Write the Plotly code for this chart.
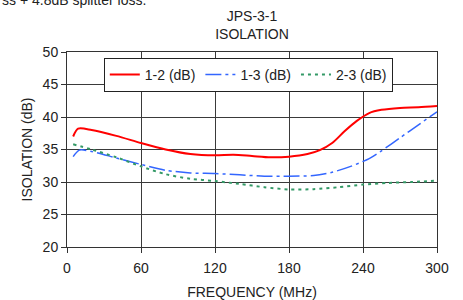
import plotly.graph_objects as go

freq_12 = [5, 9, 20, 40, 60, 80, 100, 120, 135, 150, 165, 180, 195, 205, 215, 225, 235, 245, 255, 270, 285, 300]
iso_12 = [37.0, 38.2, 38.0, 37.1, 36.0, 35.0, 34.3, 34.1, 34.2, 34.0, 33.8, 33.9, 34.3, 34.9, 36.0, 37.8, 39.4, 40.6, 41.1, 41.4, 41.5, 41.7]

freq_13 = [5, 10, 20, 40, 60, 80, 100, 120, 140, 160, 180, 200, 215, 230, 245, 255, 270, 285, 300]
iso_13 = [33.9, 34.9, 34.7, 33.7, 32.7, 31.8, 31.4, 31.3, 31.1, 30.9, 30.9, 31.0, 31.5, 32.4, 33.6, 34.8, 36.8, 38.8, 40.8]

freq_23 = [5, 20, 40, 60, 80, 100, 120, 140, 160, 180, 200, 220, 240, 260, 280, 300]
iso_23 = [35.8, 35.0, 33.8, 32.4, 31.2, 30.5, 30.15, 29.7, 29.2, 28.85, 28.9, 29.2, 29.6, 29.85, 30.0, 30.2]

x_ticks = [0, 60, 120, 180, 240, 300]
y_ticks = [20, 25, 30, 35, 40, 45, 50]

font_family = "Liberation Sans, Arial, sans-serif"

fig = go.Figure()
fig.add_trace(go.Scatter(x=freq_12, y=iso_12, mode="lines", name="1-2 (dB)",
                         line=dict(color="#ff0000", width=2, shape="spline", smoothing=0.8)))
fig.add_trace(go.Scatter(x=freq_13, y=iso_13, mode="lines", name="1-3 (dB)",
                         line=dict(color="#3366ff", width=1.5, dash="16px,4px,3px,4px", shape="spline", smoothing=0.8)))
fig.add_trace(go.Scatter(x=freq_23, y=iso_23, mode="lines", name="2-3 (dB)",
                         line=dict(color="#339966", width=2, dash="3px,4px", shape="spline", smoothing=0.8)))

axis_common = dict(showline=True, linecolor="#333333", linewidth=1, mirror=True,
                   showgrid=True, gridcolor="#3a3a3a", gridwidth=1,
                   ticks="outside", ticklen=5, tickcolor="#333333",
                   tickfont=dict(family=font_family, size=14, color="#222222"),
                   zeroline=False, automargin=False)

fig.update_layout(
    width=463, height=300,
    margin=dict(l=67, r=26, t=52, b=53, autoexpand=False),
    paper_bgcolor="white", plot_bgcolor="white",
    font=dict(family=font_family, size=14, color="#222222"),
    title=dict(text="JPS-3-1<br>ISOLATION", x=(67 + 437) / 2 / 463, xanchor="center",
               y=0.93, yanchor="top", font=dict(size=14, family=font_family, color="#222222")),
    xaxis=dict(range=[0, 300], tickvals=x_ticks, ticklabelstandoff=3,
               title=dict(text="FREQUENCY (MHz)", font=dict(size=14), standoff=20),
               **axis_common),
    yaxis=dict(range=[20, 50], tickvals=y_ticks,
               title=dict(text="ISOLATION (dB)", font=dict(size=14), standoff=6),
               **axis_common),
    legend=dict(orientation="h", x=0.49, xanchor="center", y=0.97, yanchor="top",
                bgcolor="white", bordercolor="#222222", borderwidth=1,
                font=dict(size=14, family=font_family), itemwidth=30,
                tracegroupgap=0, itemclick=False),
    showlegend=True,
    annotations=[dict(text="ss + 4.8dB splitter loss.", xref="paper", yref="paper",
                      x=-67 / 370, xanchor="left", y=1 + 52 / 195, yanchor="middle",
                      showarrow=False, font=dict(size=14, family=font_family, color="#222222"))],
)

fig.write_html("out.html", config={"displayModeBar": False},
               post_script="document.body.style.margin='0';document.body.style.padding='0';")
